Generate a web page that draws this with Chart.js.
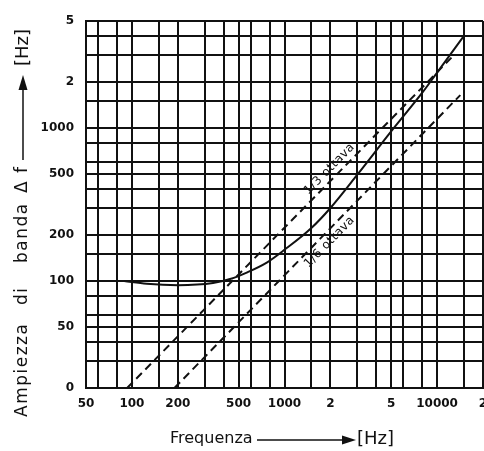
<!DOCTYPE html>
<html>
<head>
<meta charset="utf-8">
<script src="https://cdn.jsdelivr.net/npm/chart.js@4/dist/chart.umd.min.js"></script>
<style>
html, body { margin: 0; padding: 0; background: #fff; }
</style>
</head>
<body>
<canvas id="myChart" width="484" height="451"></canvas>
<script>
// measured bandwidth curve (solid)
const freqCurve = [89, 125, 200, 340, 440, 570, 765, 1000, 1500, 2000, 3000, 5000, 8000, 10000, 15000];
const bandCurve = [100, 96, 94, 97, 103, 114, 132, 160, 222, 300, 495, 950, 1700, 2300, 4000];
// 1/3 and 1/6 octave lines (dashed)
const freqThird = [93, 12500];
const bandThird = [20, 2900];
const freqSixth = [190, 14200];
const bandSixth = [20, 1640];

const xGrid = [50, 60, 80, 100, 150, 200, 300, 400, 500, 600, 800, 1000, 1500, 2000, 3000, 4000, 5000, 6000, 8000, 10000, 15000, 20000];
const yGrid = [20, 30, 40, 50, 60, 80, 100, 150, 200, 300, 400, 500, 600, 800, 1000, 1500, 2000, 3000, 4000, 5000];
const xLabels = {50: '50', 100: '100', 200: '200', 500: '500', 1000: '1000', 2000: '2', 5000: '5', 10000: '10000', 20000: '2'};
const yLabels = {20: '0', 50: '50', 100: '100', 200: '200', 500: '500', 1000: '1000', 2000: '2', 5000: '5'};

const lineLabels = ['1/3 ottava', '1/6 ottava'];
const lineLabelFreq = [2170, 1790];

const ink = '#111';
const toPts = (xs, ys) => xs.map((x, i) => ({x: x, y: ys[i]}));

const annotate = {
    id: 'annotate',
    afterDatasetsDraw(chart) {
        const ctx = chart.ctx;
        const xs = chart.scales.x;
        ctx.save();
        ctx.fillStyle = ink;
        ctx.strokeStyle = ink;

        // labels along the dashed lines
        [1, 2].forEach((di, k) => {
            const pts = chart.getDatasetMeta(di).data;
            const a = pts[0], b = pts[1];
            const ang = Math.atan2(b.y - a.y, b.x - a.x);
            const px = xs.getPixelForValue(lineLabelFreq[k]);
            const py = a.y + (px - a.x) * (b.y - a.y) / (b.x - a.x);
            ctx.save();
            ctx.translate(px, py);
            ctx.rotate(ang);
            ctx.font = '12px "DejaVu Sans"';
            ctx.letterSpacing = '0.5px';
            ctx.textAlign = 'center';
            ctx.textBaseline = k === 0 ? 'bottom' : 'top';
            ctx.fillText(lineLabels[k], 0, k === 0 ? -3 : 3);
            ctx.restore();
        });

        // x title
        ctx.font = '16px "DejaVu Sans"';
        ctx.textAlign = 'left';
        ctx.textBaseline = 'middle';
        ctx.fillText('Frequenza', 170, 439);
        ctx.lineWidth = 1.5;
        ctx.beginPath();
        ctx.moveTo(257, 440);
        ctx.lineTo(342, 440);
        ctx.stroke();
        ctx.beginPath();
        ctx.moveTo(342, 435.5);
        ctx.lineTo(356, 440);
        ctx.lineTo(342, 444.5);
        ctx.closePath();
        ctx.fill();
        ctx.font = '18px "DejaVu Sans"';
        ctx.fillText('[Hz]', 357, 439);

        // y title (rotated, reads upwards)
        ctx.save();
        ctx.translate(23, 0);
        ctx.rotate(-Math.PI / 2);
        ctx.font = '17px "DejaVu Sans"';
        ctx.letterSpacing = '1.5px';
        ctx.textAlign = 'left';
        ctx.textBaseline = 'middle';
        ctx.fillText('Ampiezza', -417, 0);
        ctx.fillText('di', -305, 0);
        ctx.fillText('banda', -263, 0);
        ctx.fillText('\u0394 f', -193, 0);
        ctx.lineWidth = 1.5;
        ctx.beginPath();
        ctx.moveTo(-160, 0);
        ctx.lineTo(-90, 0);
        ctx.stroke();
        ctx.beginPath();
        ctx.moveTo(-90, -4.5);
        ctx.lineTo(-75, 0);
        ctx.lineTo(-90, 4.5);
        ctx.closePath();
        ctx.fill();
        ctx.letterSpacing = '0px';
        ctx.font = '18px "DejaVu Sans"';
        ctx.fillText('[Hz]', -66, 0);
        ctx.restore();

        ctx.restore();
    }
};

const tickFont = {family: 'DejaVu Sans', size: 12, weight: 'bold'};

const myChart = new Chart(document.getElementById('myChart'), {
    type: 'scatter',
    data: {
        datasets: [
            {
                label: 'Ampiezza di banda',
                data: toPts(freqCurve, bandCurve),
                showLine: true,
                borderColor: ink,
                borderWidth: 2,
                pointRadius: 0,
                cubicInterpolationMode: 'monotone'
            },
            {
                label: '1/3 ottava',
                data: toPts(freqThird, bandThird),
                showLine: true,
                borderColor: ink,
                borderWidth: 2,
                borderDash: [8, 5],
                pointRadius: 0
            },
            {
                label: '1/6 ottava',
                data: toPts(freqSixth, bandSixth),
                showLine: true,
                borderColor: ink,
                borderWidth: 2,
                borderDash: [8, 5],
                pointRadius: 0
            }
        ]
    },
    options: {
        responsive: false,
        animation: false,
        devicePixelRatio: 1,
        layout: {
            padding: {top: 21, right: 1, left: 0, bottom: 0}
        },
        scales: {
            x: {
                type: 'logarithmic',
                min: 50,
                max: 20000,
                afterBuildTicks: (axis) => { axis.ticks = xGrid.map(v => ({value: v})); },
                afterFit: (s) => { s.height = 63; s.paddingLeft = 0; s.paddingRight = 0; },
                grid: {
                    color: ink,
                    lineWidth: 2,
                    drawTicks: false
                },
                border: {color: ink, width: 2},
                ticks: {
                    autoSkip: false,
                    maxRotation: 0,
                    color: ink,
                    font: tickFont,
                    padding: 9,
                    callback: (v) => xLabels[v] || ''
                }
            },
            y: {
                type: 'logarithmic',
                min: 20,
                max: 5000,
                afterBuildTicks: (axis) => { axis.ticks = yGrid.map(v => ({value: v})); },
                afterFit: (s) => { s.width = 86; s.paddingTop = 0; s.paddingBottom = 0; },
                grid: {
                    color: ink,
                    lineWidth: 2,
                    drawTicks: false
                },
                border: {color: ink, width: 2},
                ticks: {
                    autoSkip: false,
                    color: ink,
                    font: tickFont,
                    padding: 12,
                    callback: (v) => yLabels[v] || ''
                }
            }
        },
        plugins: {
            legend: {display: false},
            tooltip: {enabled: false}
        }
    },
    plugins: [annotate]
});
</script>
</body>
</html>
